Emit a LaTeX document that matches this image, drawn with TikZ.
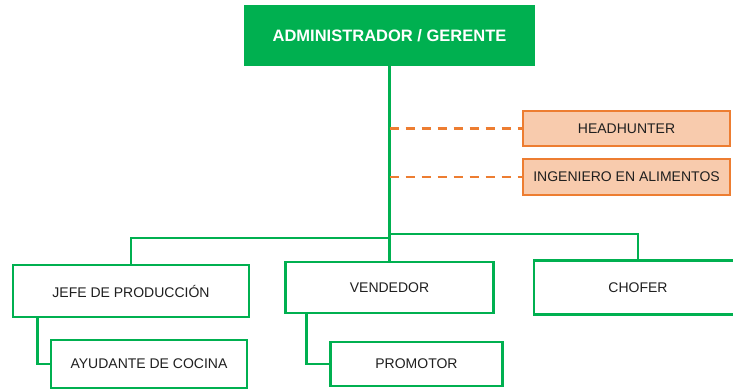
\documentclass[tikz,border=0pt]{standalone}
\usepackage{fontspec}
\setmainfont{Liberation Sans}
\usetikzlibrary{shapes,arrows}
\definecolor{orggreen}{RGB}{0,176,80}
\definecolor{orgorange}{RGB}{237,125,49}
\definecolor{orgpeach}{RGB}{248,203,173}
\tikzstyle{block} = [draw=orggreen, fill=white, rectangle, line width=2.7pt,
    inner sep=0pt, text=black!88, font=\fontsize{14}{16}\selectfont]
\tikzstyle{topblock} = [block, fill=orggreen, text=white,
    font=\bfseries\fontsize{16.5}{20}\selectfont]
\tikzstyle{staff} = [block, draw=orgorange, fill=orgpeach]
\tikzstyle{input} = [coordinate]
\tikzstyle{link} = [draw=orggreen, line width=2.7pt]
\tikzstyle{dashlink} = [draw=orgorange, line width=2.7pt, dash pattern=on 9pt off 7pt]

\begin{document}
\begin{tikzpicture}[x=1pt, y=1pt, node distance=2cm]
	\useasboundingbox (0,0) rectangle (733,-390);
% Head of the chart
	\node [topblock, minimum width=289pt, minimum height=59pt] (A1) at (389.5,-35.5) {ADMINISTRADOR / GERENTE};
% Staff blocks
	\node [input, below of=A1, node distance= 93pt, name=sref1] {};
	\node [staff, right of=sref1, node distance= 237pt, minimum width=207pt, minimum height=35pt] (S1) {HEADHUNTER};
	\node [staff, below of=S1, node distance= 48.5pt, minimum width=207pt, minimum height=36pt] (S2) {INGENIERO EN ALIMENTOS};
% First level
	\node [input, below of=A1, node distance= 252pt, name=lref1] {};
	\node [block, below of=A1, node distance= 255.5pt, xshift=-258.5pt, minimum width=236pt, minimum height=52pt] (B1) {JEFE DE PRODUCCIÓN};
	\node [block, below of=A1, node distance= 252pt, minimum width=208pt, minimum height=51pt] (B2) {VENDEDOR};
	\node [block, right of=lref1, node distance= 248.5pt, minimum width=208pt, minimum height=54pt] (B3) {CHOFER};
% Second level
	\node [input, below of=B1, node distance= 73pt, name=cref1] {};
	\node [block, right of=cref1, node distance= 18pt, minimum width=196pt, minimum height=48pt] (C1) {AYUDANTE DE COCINA};
	\node [input, below of=B2, node distance= 76.5pt, name=cref2] {};
	\node [block, right of=cref2, node distance= 27pt, minimum width=172pt, minimum height=44pt] (C2) {PROMOTOR};
% Lines
	\node [input, below of=A1, node distance= 202.5pt, name=bus1] {};
	\node [input, above of=bus1, node distance= 4pt, name=bus2] {};
	\draw [link] (A1.south) -- (bus1);
	\draw [link] (bus1) -| (B1.north);
	\draw [link] (bus1) -- (B2.north);
	\draw [link] (bus2) -| (B3.north);
	\draw [dashlink] (A1.south |- S1.west) -- (S1.west);
	\draw [dashlink] (A1.south |- S2.west) -- (S2.west);
	\draw [link] ([xshift=26pt]B1.south west) |- (C1.west);
	\draw [link] ([xshift=22pt]B2.south west) |- (C2.west);
\end{tikzpicture}
\end{document}
